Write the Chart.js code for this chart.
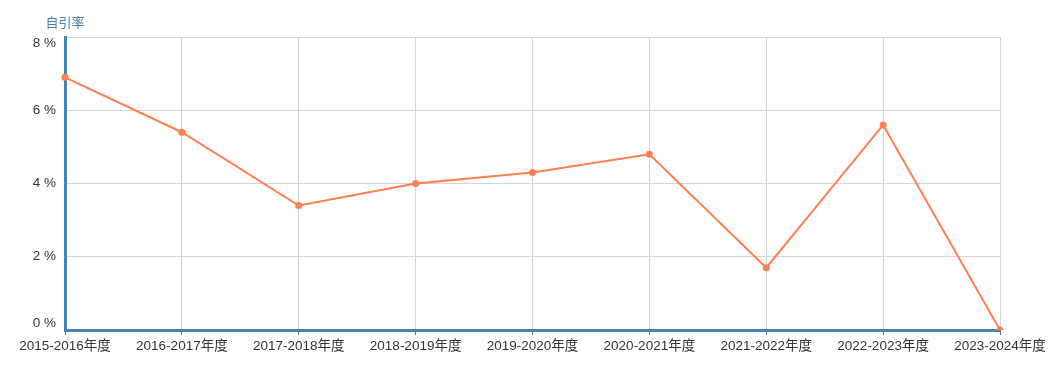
<!DOCTYPE html>
<html>
<head>
<meta charset="utf-8">
<script src="https://cdn.jsdelivr.net/npm/chart.js@4/dist/chart.umd.min.js"></script>
<style>
  html, body { margin: 0; padding: 0; background: #fff; }
  #wrap { width: 1055px; height: 371px; position: relative; }
</style>
</head>
<body>
<div id="wrap"><canvas id="chartCanvas"></canvas></div>
<script>
// datos del gráfico
var anios = ["2015-2016年度", "2016-2017年度", "2017-2018年度", "2018-2019年度", "2019-2020年度",
             "2020-2021年度", "2021-2022年度", "2022-2023年度", "2023-2024年度"];
var autocitas = [6.9, 5.4, 3.4, 4.0, 4.3, 4.8, 1.7, 5.6, 0];
var ticksY = [0, 2, 4, 6, 8];
var tituloEje = "自引率";

var fuente = "'Liberation Sans', Arial, 'Noto Sans CJK SC', sans-serif";
var azul = "#4682b4";

// título del eje y, horizontal arriba a la izquierda
var tituloPlugin = {
  id: "tituloEje",
  afterDraw: function (chart) {
    var c = chart.ctx;
    c.save();
    c.font = "13px " + fuente;
    c.fillStyle = azul;
    c.textAlign = "center";
    c.textBaseline = "middle";
    c.fillText(tituloEje, chart.chartArea.left, 23);
    c.restore();
  }
};

var ctx = document.getElementById("chartCanvas").getContext("2d");
var myChart = new Chart(ctx, {
  type: "line",
  data: {
    labels: anios,
    datasets: [{
      label: tituloEje,
      data: autocitas,
      borderColor: "#ff7f50",
      backgroundColor: "#ff7f50",
      borderWidth: 2,
      pointRadius: 2.5,
      pointHoverRadius: 3,
      tension: 0
    }]
  },
  plugins: [tituloPlugin],
  options: {
    responsive: true,
    maintainAspectRatio: false,
    animation: false,
    layout: { padding: { top: 37, right: 55, left: 0, bottom: 0 } },
    plugins: {
      legend: { display: false },
      tooltip: { enabled: false }
    },
    scales: {
      x: {
        offset: false,
        afterFit: function (scale) { scale.height = 41; },
        grid: { color: "#d4d4d4", lineWidth: 1, drawTicks: true, tickLength: 5, tickColor: "#6e7079" },
        border: { color: azul, width: 3 },
        ticks: {
          color: "#333",
          font: { family: fuente, size: 13.5 },
          maxRotation: 0,
          autoSkip: false,
          padding: 3
        }
      },
      y: {
        min: 0,
        max: 8,
        afterBuildTicks: function (scale) {
          scale.ticks = ticksY.map(function (v) { return { value: v }; });
        },
        afterFit: function (scale) { scale.width = 65; },
        grid: { color: "#d4d4d4", lineWidth: 1, drawTicks: false },
        border: { color: azul, width: 3 },
        ticks: {
          color: "#333",
          font: { family: fuente, size: 13.5, lineHeight: 1.0 },
          padding: 9,
          // las etiquetas de los extremos quedan dentro del área, como en el original
          callback: function (v) {
            var t = v + " %";
            if (v === ticksY[ticksY.length - 1]) return ["", t];
            if (v === ticksY[0]) return [t, ""];
            return t;
          }
        }
      }
    }
  }
});
</script>
</body>
</html>
